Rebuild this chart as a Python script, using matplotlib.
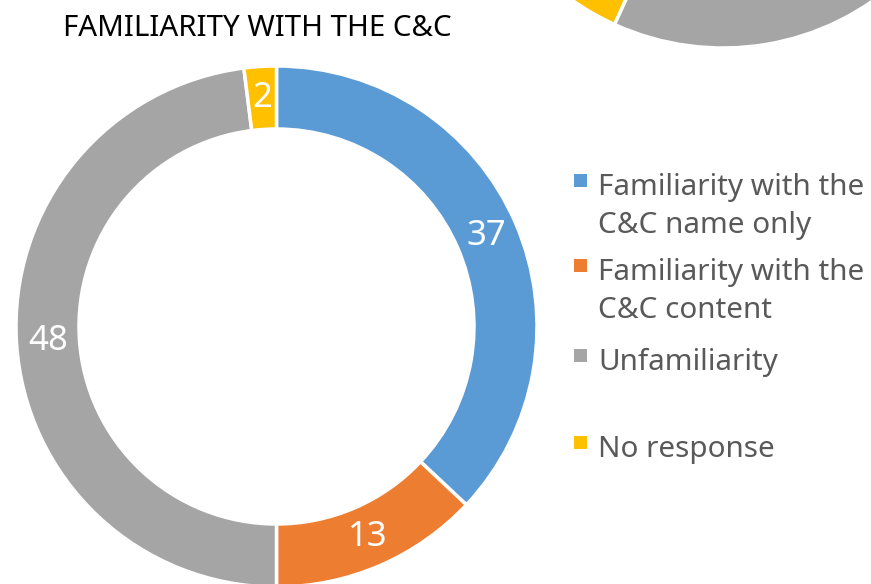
import matplotlib
matplotlib.use("Agg")
import matplotlib.pyplot as plt
from matplotlib.patches import Rectangle

FONT = ['Noto Sans', 'DejaVu Sans']
plt.rcParams['font.family'] = FONT

# Data
categories = ["Familiarity with the\nC&C name only",
              "Familiarity with the\nC&C content",
              "Unfamiliarity",
              "No response"]
values = [37, 13, 48, 2]
colors = ["#5B9BD5", "#ED7D31", "#A5A5A5", "#FFC000"]
title = "FAMILIARITY WITH THE C&C"

# Fragment of neighbouring chart (only lower part visible)
other_values = [25, 13, 18.8, 43.2]

W, H = 871, 584
fig = plt.figure(figsize=(W / 100, H / 100), dpi=100)
ax = fig.add_axes([0, 0, 1, 1])

# Neighbouring donut fragment (top right)
ax.pie(other_values, colors=colors, startangle=90, counterclock=False,
       center=(723, H + 214), radius=262,
       wedgeprops=dict(width=63, edgecolor="white", linewidth=2.5))

# Main donut
cx, cy = 276.5, H - 326.5
R, w = 260.5, 63
wedges, texts, autotexts = ax.pie(
    values, colors=colors, startangle=90, counterclock=False,
    center=(cx, cy), radius=R,
    wedgeprops=dict(width=w, edgecolor="white", linewidth=2.5),
    autopct=lambda p: f"{p:.0f}", pctdistance=(R - w / 2) / R,
    textprops=dict(color="white", fontsize=25))
for t in autotexts:
    t.set_va("center")
    t.set_ha("center")

ax.set_xlim(0, W)
ax.set_ylim(0, H)
ax.set_aspect("equal")
ax.axis("off")

renderer = fig.canvas.get_renderer()


def fit(t, target_w):
    bb = t.get_window_extent(renderer)
    t.set_fontsize(t.get_fontsize() * target_w / bb.width)


# Title
tt = ax.text(257.5, H - 28, title, ha="center", va="center", fontsize=22, color="black")
fit(tt, 389)

# Legend (manual)
leg_text_x = 598
baselines = [195, 280, 370, 457]
ref = None
objs = []
for cat, col, b in zip(categories, colors, baselines):
    ax.add_patch(Rectangle((574, H - b + 8), 13, 13, color=col, lw=0))
    lines = cat.split("\n")
    for i, line in enumerate(lines):
        t = ax.text(leg_text_x, H - (b + i * 38), line, ha="left", va="baseline",
                    fontsize=21.5, color="#595959")
        objs.append(t)
        if ref is None:
            ref = t
bb = ref.get_window_extent(renderer)
fs = 21.5 * 266 / bb.width
for t in objs:
    t.set_fontsize(fs)

fig.savefig("out.png", dpi=100)
